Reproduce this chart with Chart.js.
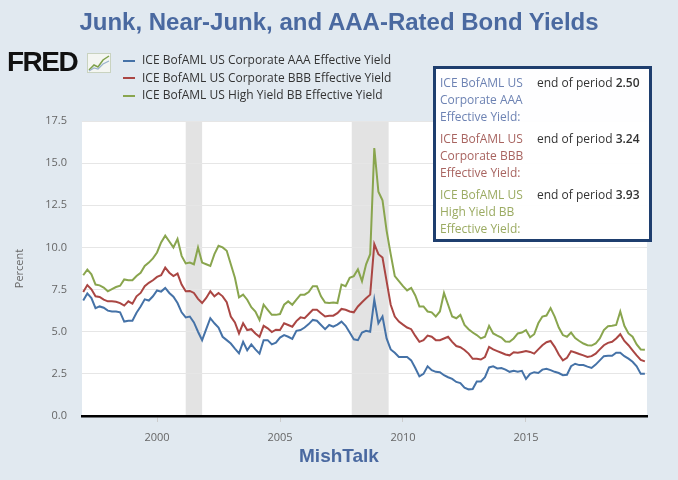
<!DOCTYPE html>
<html>
<head>
<meta charset="utf-8">
<script src="https://cdn.jsdelivr.net/npm/chart.js@4.4.0/dist/chart.umd.min.js"></script>
<style>
  body { margin: 0; background: #e1e9f0; }
  #wrap { position: relative; width: 678px; height: 480px; overflow: hidden; background: #e1e9f0; }
  #myChart { position: absolute; left: 0; top: 0; }
  .title { position: absolute; left: 0; top: 8px; width: 678px; text-align: center; line-height: 28px;
           font: bold 24px "Liberation Sans", Arial, sans-serif; color: #4a69a0; }
  .footer { position: absolute; left: 0; top: 445px; width: 678px; text-align: center; line-height: 24px;
            font: bold 19px "Liberation Sans", Arial, sans-serif; color: #4a69a0; }
  .fred { position: absolute; left: 7px; top: 46px; font: bold 28px "Liberation Sans", Arial, sans-serif;
          letter-spacing: -1.5px; color: #111; line-height: 32px; }
  .fred-icon { position: absolute; left: 87px; top: 53px; }
  .legend { position: absolute; left: 123px; top: 51px; font: 12px "Open Sans", sans-serif; color: #333; }
  .legend div { height: 17.5px; line-height: 17.5px; white-space: nowrap; }
  .legend span { display: inline-block; width: 12px; height: 2px; vertical-align: middle; margin-right: 7px; }
  #tip { position: absolute; left: 433px; top: 66px; width: 213px; height: 170px; border: 3px solid #1e3e6e;
         background: rgba(255,255,255,0.95); font: 12px "Open Sans", sans-serif; }
  #tip .blk { position: relative; height: 56px; }
  #tip .nm { position: absolute; left: 4px; top: 5px; line-height: 17px; }
  #tip .val { position: absolute; left: 101px; top: 5px; line-height: 17px; color: #333; white-space: nowrap; }
  #tip .val b { font-weight: 600; }
</style>
</head>
<body>
<div id="wrap">
  <canvas id="myChart" width="678" height="480"></canvas>
  <div class="title">Junk, Near-Junk, and AAA-Rated Bond Yields</div>
  <div class="fred">FRED</div>
  <svg class="fred-icon" width="24" height="20" viewBox="0 0 24 20">
    <rect x="0.5" y="0.5" width="23" height="19" fill="#f4f6f2" stroke="#c9d3c0"/>
    <polyline points="2,17 7,12 11,14 16,7 22,3" fill="none" stroke="#7ea04a" stroke-width="1.5"/>
    <polyline points="2,18 7,15 11,16 16,11 22,8" fill="none" stroke="#9ab3cc" stroke-width="1.2"/>
  </svg>
  <div class="legend">
    <div><span style="background:#4572a7"></span>ICE BofAML US Corporate AAA Effective Yield</div>
    <div><span style="background:#aa4643"></span>ICE BofAML US Corporate BBB Effective Yield</div>
    <div><span style="background:#89a54e"></span>ICE BofAML US High Yield BB Effective Yield</div>
  </div>
  <div id="tip"></div>
  <div class="footer">MishTalk</div>
</div>
<script>
// every other month, Jan 1997 - Nov 2019
var dates = [
  '1997-01','1997-03','1997-05','1997-07','1997-09','1997-11',
  '1998-01','1998-03','1998-05','1998-07','1998-09','1998-11',
  '1999-01','1999-03','1999-05','1999-07','1999-09','1999-11',
  '2000-01','2000-03','2000-05','2000-07','2000-09','2000-11',
  '2001-01','2001-03','2001-05','2001-07','2001-09','2001-11',
  '2002-01','2002-03','2002-05','2002-07','2002-09','2002-11',
  '2003-01','2003-03','2003-05','2003-07','2003-09','2003-11',
  '2004-01','2004-03','2004-05','2004-07','2004-09','2004-11',
  '2005-01','2005-03','2005-05','2005-07','2005-09','2005-11',
  '2006-01','2006-03','2006-05','2006-07','2006-09','2006-11',
  '2007-01','2007-03','2007-05','2007-07','2007-09','2007-11',
  '2008-01','2008-03','2008-05','2008-07','2008-09','2008-11',
  '2009-01','2009-03','2009-05','2009-07','2009-09','2009-11',
  '2010-01','2010-03','2010-05','2010-07','2010-09','2010-11',
  '2011-01','2011-03','2011-05','2011-07','2011-09','2011-11',
  '2012-01','2012-03','2012-05','2012-07','2012-09','2012-11',
  '2013-01','2013-03','2013-05','2013-07','2013-09','2013-11',
  '2014-01','2014-03','2014-05','2014-07','2014-09','2014-11',
  '2015-01','2015-03','2015-05','2015-07','2015-09','2015-11',
  '2016-01','2016-03','2016-05','2016-07','2016-09','2016-11',
  '2017-01','2017-03','2017-05','2017-07','2017-09','2017-11',
  '2018-01','2018-03','2018-05','2018-07','2018-09','2018-11',
  '2019-01','2019-03','2019-05','2019-07','2019-09','2019-11'
];

var aaaYield = [
  6.85, 7.27, 7.0, 6.4, 6.5, 6.42,
  6.25, 6.2, 6.2, 6.15, 5.6, 5.65,
  5.65, 6.12, 6.5, 6.92, 6.85, 7.1,
  7.45, 7.38, 7.6, 7.3, 7.08, 6.7,
  6.15, 5.85, 5.9, 5.55, 5.0, 4.5,
  5.15, 5.8, 5.5, 5.25, 4.7, 4.5,
  4.3, 4.0, 3.72, 4.4, 3.9, 4.25,
  3.95, 3.7, 4.5, 4.5, 4.25, 4.35,
  4.65, 4.8, 4.7, 4.58, 5.05, 5.1,
  5.25, 5.45, 5.7, 5.65, 5.4, 5.15,
  5.4, 5.3, 5.42, 5.6, 5.35, 4.95,
  4.55, 4.5, 4.95, 5.05, 5.0, 6.9,
  5.5, 5.9, 4.6, 3.95, 3.75, 3.5,
  3.5, 3.5, 3.3, 2.85, 2.35, 2.5,
  2.95, 2.72, 2.62, 2.6, 2.42, 2.3,
  2.2, 2.02, 1.95, 1.68, 1.58, 1.6,
  2.05, 2.05, 2.3, 2.88, 2.95, 2.82,
  2.85, 2.75, 2.62, 2.68, 2.62, 2.68,
  2.2, 2.5, 2.6, 2.55, 2.75, 2.8,
  2.72, 2.62, 2.55, 2.42, 2.45, 2.95,
  3.1, 3.02, 3.02, 2.93, 2.85, 3.05,
  3.3, 3.55, 3.57, 3.57, 3.75, 3.75,
  3.55, 3.4, 3.22, 2.95, 2.5, 2.5
];

var bbbYield = [
  7.35, 7.77, 7.52, 7.1, 7.06, 6.9,
  6.8, 6.8, 6.78, 6.7, 6.55, 6.8,
  6.66, 7.1, 7.3, 7.7, 7.9, 8.05,
  8.25, 8.35, 8.8, 8.5, 8.3, 8.45,
  7.8, 7.4, 7.42, 7.3, 6.95, 6.7,
  7.0, 7.4, 7.1, 7.3, 7.1, 6.75,
  5.9, 5.55, 4.9, 5.5, 5.1, 5.15,
  4.9, 4.7, 5.35, 5.2, 4.98, 5.12,
  5.1, 5.5, 5.4, 5.3, 5.63, 5.85,
  5.8, 6.05, 6.3, 6.3, 6.1, 5.9,
  5.95, 5.95, 6.1, 6.35, 6.3, 6.2,
  6.15, 6.5, 6.75, 6.98, 7.2, 10.2,
  9.6, 9.4, 8.0, 6.6, 5.9, 5.6,
  5.42, 5.25, 5.15, 4.75, 4.4, 4.5,
  4.77, 4.7, 4.5, 4.5, 4.6, 4.7,
  4.4, 4.15, 4.08, 3.92, 3.7, 3.39,
  3.4, 3.35, 3.5, 4.1, 3.95, 3.85,
  3.75, 3.65, 3.6, 3.78, 3.75, 3.8,
  3.85, 3.8, 3.7, 3.95, 4.2, 4.38,
  4.45, 4.1, 3.65, 3.3, 3.45, 3.85,
  3.77, 3.68, 3.6, 3.5, 3.55, 3.7,
  3.95, 4.2, 4.34, 4.4, 4.6, 4.85,
  4.45, 4.2, 3.9, 3.6, 3.33, 3.24
];

var bbYield = [
  8.35, 8.68, 8.4, 7.8, 7.75, 7.62,
  7.4, 7.53, 7.65, 7.73, 8.1, 8.06,
  8.05, 8.3, 8.5, 8.9, 9.1, 9.35,
  9.7, 10.3, 10.7, 10.35, 10.0, 10.5,
  9.5, 9.05, 9.1, 9.0, 10.0, 9.1,
  9.0, 8.9, 9.6, 10.1, 10.0, 9.8,
  9.0, 8.2, 7.04, 7.2, 6.9, 6.45,
  6.2, 5.7, 6.6, 6.3, 6.0, 6.0,
  6.05, 6.6, 6.8, 6.6, 6.9, 7.2,
  7.2, 7.35, 7.7, 7.7, 7.1, 6.73,
  6.7, 6.73, 6.7, 7.8, 7.7, 8.2,
  8.3, 8.7, 8.0, 9.0, 9.6, 15.9,
  13.3, 12.8, 11.0, 9.6, 8.3, 8.0,
  7.7, 7.45, 7.6, 7.15, 6.5, 6.5,
  6.2, 6.15, 5.9, 6.2, 7.3, 6.6,
  5.9, 5.8, 6.0, 5.4, 5.15, 4.95,
  4.8, 4.6, 4.7, 5.35, 4.9, 4.77,
  4.65, 4.42, 4.4, 4.6, 4.9, 4.95,
  5.1, 4.67, 4.85, 5.5, 5.9, 5.96,
  6.4, 5.9, 5.25, 4.8, 4.7, 4.95,
  4.62, 4.45, 4.3, 4.2, 4.18, 4.3,
  4.6, 5.1, 5.33, 5.35, 5.4, 6.2,
  5.35, 4.9, 4.7, 4.25, 3.95, 3.93
];

var recessions = [['2001-03', '2001-11'], ['2007-12', '2009-06']];
var xTickYears = [2000, 2005, 2010, 2015];

function toYear(s) {
  var p = s.split('-');
  return +p[0] + (p[1] - 1) / 12;
}

function points(values) {
  return dates.map(function (d, i) { return { x: toYear(d), y: values[i] }; });
}

// tooltip-like "end of period" box
var tipRows = [
  { name: 'ICE BofAML US<br>Corporate AAA<br>Effective Yield:', color: '#6d82b3', values: aaaYield },
  { name: 'ICE BofAML US<br>Corporate BBB<br>Effective Yield:', color: '#a86460', values: bbbYield },
  { name: 'ICE BofAML US<br>High Yield BB<br>Effective Yield:', color: '#9bab62', values: bbYield }
];
document.getElementById('tip').innerHTML = tipRows.map(function (r) {
  return '<div class="blk"><div class="nm" style="color:' + r.color + '">' + r.name + '</div>' +
    '<div class="val">end of period <b>' + r.values[r.values.length - 1].toFixed(2) + '</b></div></div>';
}).join('');

var plotBg = {
  id: 'plotBg',
  beforeDraw: function (chart) {
    var a = chart.chartArea, c = chart.ctx, x = chart.scales.x;
    c.save();
    c.fillStyle = '#ffffff';
    c.fillRect(a.left, a.top, a.right - a.left, a.bottom - a.top);
    c.fillStyle = '#e3e3e3';
    recessions.forEach(function (r) {
      var x0 = x.getPixelForValue(toYear(r[0]));
      var x1 = x.getPixelForValue(toYear(r[1]));
      c.fillRect(x0, a.top, x1 - x0, a.bottom - a.top);
    });
    c.restore();
  }
};

var ctx = document.getElementById('myChart').getContext('2d');
var myChart = new Chart(ctx, {
  type: 'line',
  data: {
    datasets: [
      { label: 'ICE BofAML US Corporate AAA Effective Yield', data: points(aaaYield), borderColor: '#4572a7' },
      { label: 'ICE BofAML US Corporate BBB Effective Yield', data: points(bbbYield), borderColor: '#aa4643' },
      { label: 'ICE BofAML US High Yield BB Effective Yield', data: points(bbYield), borderColor: '#89a54e' }
    ]
  },
  options: {
    responsive: false,
    animation: false,
    devicePixelRatio: 1,
    layout: { padding: { top: 121, right: 31, left: 0, bottom: 0 } },
    elements: {
      line: { borderWidth: 2, tension: 0, fill: false },
      point: { radius: 0 }
    },
    plugins: { legend: { display: false }, tooltip: { enabled: false } },
    scales: {
      x: {
        type: 'linear',
        min: 1996.95,
        max: 2019.92,
        afterFit: function (scale) { scale.height = 64; },
        afterBuildTicks: function (scale) {
          scale.ticks = xTickYears.map(function (v) { return { value: v }; });
        },
        ticks: {
          color: '#666',
          font: { family: 'Open Sans', size: 11 },
          padding: 9,
          maxRotation: 0,
          callback: function (v) { return String(v); }
        },
        grid: { display: true, drawOnChartArea: false, drawTicks: true, tickLength: 6, color: '#cccccc' },
        border: { display: true, color: '#000000', width: 2.5 }
      },
      y: {
        min: 0,
        max: 17.5,
        afterFit: function (scale) { scale.width = 82; },
        ticks: {
          stepSize: 2.5,
          color: '#666',
          font: { family: 'Open Sans', size: 11 },
          padding: 15,
          callback: function (v) { return v.toFixed(1); }
        },
        grid: { color: '#e6e6e6', drawTicks: false },
        border: { display: false },
        title: {
          display: true,
          text: 'Percent',
          color: '#666',
          font: { family: 'Open Sans', size: 11 },
          padding: { top: 13, bottom: 0 }
        }
      }
    }
  },
  plugins: [plotBg]
});
</script>
</body>
</html>
